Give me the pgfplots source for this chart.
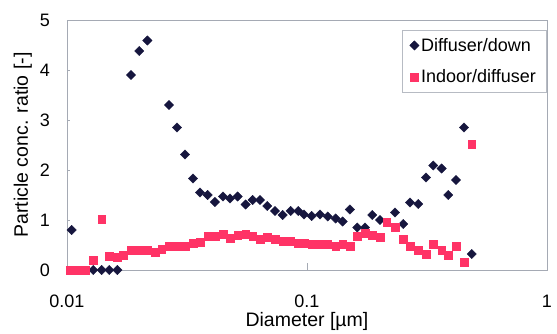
\documentclass[border=0pt]{standalone}
\usepackage{pgfplots}
\pgfplotsset{compat=1.18}
\usepackage{fontspec}
\setmainfont{Liberation Sans}
\definecolor{navy}{RGB}{22,22,62}
\definecolor{pinkred}{RGB}{255,51,102}
\definecolor{framegray}{RGB}{165,170,180}
\begin{document}
\begin{tikzpicture}
\useasboundingbox (-67pt,-64pt) rectangle (490pt,270pt);
\begin{axis}[
  scale only axis,
  width=480pt, height=250pt,
  at={(0pt,0pt)}, anchor=south west,
  xmode=log, xmin=0.01, xmax=1, ymin=0, ymax=5,
  xtick={0.01,0.1,1}, xticklabels={0.01,0.1,1},
  ytick={0,1,2,3,4,5},
  xminorticks=false,
  tick pos=left,
  tick align=inside,
  axis line style={framegray, line width=0.8pt},
  xtick style={framegray, /pgfplots/major tick length=7pt},
  ytick style={framegray, /pgfplots/major tick length=3pt},
  /pgf/number format/assume math mode=true,
  tick label style={font=\fontsize{18}{20}\selectfont, inner sep=0pt},
  xticklabel style={anchor=center, yshift=-31pt},
  yticklabel style={anchor=east, xshift=-17pt},
  xlabel={Diameter [µm]},
  ylabel={Particle conc. ratio [-]},
  label style={font=\fontsize{19.5}{22}\selectfont, inner sep=0pt},
  xlabel style={at={(axis description cs:0.5,-0.204)}, anchor=center},
  ylabel style={at={(axis description cs:-0.092,0.5)}, anchor=center},
  clip=false,
  legend style={at={(0.998,0.96)}, anchor=north east, draw=framegray!80,
    font=\fontsize{18}{20}\selectfont, row sep=13pt, inner xsep=8pt, inner ysep=6pt},
  legend cell align=left,
]
\addplot[only marks, mark=square*, mark size=3.3pt, mark options={rotate=45, fill=navy, draw=navy}] coordinates {
(0.01046,0.8)
(0.01287,0) (0.01395,0) (0.0150,0) (0.01621,0)
(0.01848,3.9) (0.0200,4.38) (0.02162,4.59)
(0.02661,3.3) (0.02873,2.85) (0.03102,2.31) (0.0335,1.83) (0.03582,1.55)
(0.03856,1.5) (0.04135,1.36) (0.04467,1.47) (0.04776,1.43) (0.05142,1.47)
(0.05552,1.31) (0.05938,1.4) (0.06369,1.4) (0.06833,1.28) (0.07356,1.18)
(0.0792,1.1) (0.08553,1.18) (0.09199,1.18) (0.09716,1.11) (0.1046,1.08)
(0.1133,1.11) (0.122,1.07) (0.1317,1.03) (0.1408,0.97) (0.151,1.21)
(0.162,0.85) (0.1744,0.85) (0.1871,1.1) (0.2014,1.0) (0.2326,1.15)
(0.2518,0.92) (0.2687,1.35) (0.2909,1.32) (0.3132,1.85) (0.3358,2.09)
(0.364,2.03) (0.3879,1.5) (0.4176,1.8) (0.451,2.85) (0.4856,0.32)
};
\addlegendentry{Diffuser/down}
\addplot[only marks, mark=square*, mark size=3.8pt, mark options={fill=pinkred, draw=pinkred}] coordinates {
(0.01029,0) (0.01106,0) (0.01189,0) (0.01287,0.2) (0.01395,1.01)
(0.0150,0.28) (0.01621,0.25) (0.01716,0.3) (0.01848,0.4) (0.0200,0.4)
(0.02162,0.4) (0.02326,0.35) (0.02481,0.42) (0.02661,0.48) (0.02873,0.48)
(0.03102,0.48) (0.0335,0.53) (0.03582,0.55) (0.03856,0.67) (0.04135,0.67)
(0.04467,0.71) (0.04776,0.63) (0.05142,0.69) (0.05552,0.72) (0.05938,0.68)
(0.06369,0.61) (0.06833,0.65) (0.07356,0.61) (0.0792,0.58) (0.08553,0.58)
(0.09199,0.53) (0.09716,0.53) (0.1046,0.51) (0.1133,0.51) (0.122,0.51)
(0.1317,0.47) (0.1408,0.51) (0.151,0.47) (0.162,0.68) (0.1744,0.73)
(0.1871,0.7) (0.2014,0.65) (0.2149,0.95) (0.2326,0.85) (0.2518,0.61)
(0.2687,0.48) (0.2909,0.4) (0.3132,0.32) (0.3358,0.52) (0.364,0.4)
(0.3879,0.3) (0.4176,0.47) (0.451,0.15) (0.4856,2.51)
};
\addlegendentry{Indoor/diffuser}
\end{axis}
\end{tikzpicture}
\end{document}
